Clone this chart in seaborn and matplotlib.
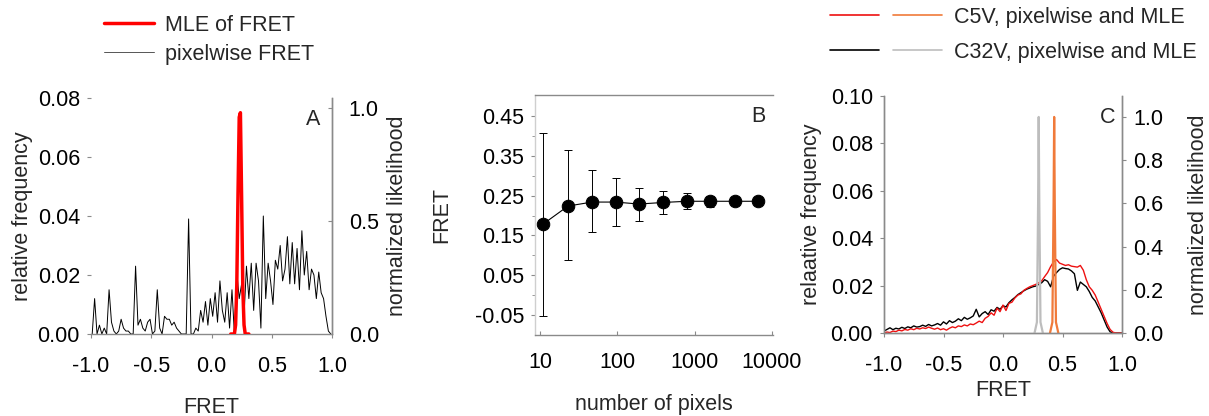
import numpy as np
import matplotlib
matplotlib.use("Agg")
import matplotlib.pyplot as plt
import seaborn as sns
from matplotlib.lines import Line2D
from matplotlib.legend_handler import HandlerTuple
from matplotlib.ticker import FixedLocator

sns.set_style("ticks")
plt.rcParams['font.family'] = ['Liberation Sans', 'DejaVu Sans']
plt.rcParams['font.size'] = 15.5
plt.rcParams['axes.unicode_minus'] = False

GRAY = '#8a8a8a'

# ---------------- panel A: pixelwise histogram + MLE likelihood
fret_bins_a = np.round(np.arange(-0.99, 1.0, 0.02), 2)
pixelwise_a = [
    0.0, 0.012, 0.0, 0.003, 0.0, 0.002, 0.0, 0.015, 0.004, 0.001,
    0.0, 0.001, 0.005, 0.002, 0.001, 0.001, 0.0, 0.0, 0.023, 0.003,
    0.005, 0.002, 0.001, 0.004, 0.005, 0.0, 0.001, 0.015, 0.002, 0.0,
    0.006, 0.005, 0.005, 0.003, 0.004, 0.002, 0.001, 0.0, 0.0, 0.0,
    0.039, 0.0, 0.0, 0.002, 0.001, 0.008, 0.004, 0.011, 0.003, 0.012,
    0.006, 0.014, 0.004, 0.018, 0.008, 0.004, 0.014, 0.002, 0.015, 0.0,
    0.021, 0.012, 0.017, 0.006, 0.023, 0.012, 0.024, 0.008, 0.024, 0.018,
    0.002, 0.040, 0.012, 0.024, 0.018, 0.010, 0.025, 0.022, 0.030, 0.018,
    0.022, 0.033, 0.017, 0.031, 0.017, 0.029, 0.015, 0.035, 0.020, 0.028,
    0.015, 0.022, 0.020, 0.012, 0.021, 0.014, 0.012, 0.006, 0.001, 0.0,
]
mle_x_a = [0.16, 0.19, 0.20, 0.21, 0.22, 0.23, 0.24, 0.25, 0.26, 0.27, 0.28, 0.31]
mle_y_a = [0.0, 0.0, 0.04, 0.22, 0.62, 0.96, 0.98, 0.60, 0.20, 0.04, 0.0, 0.0]

# ---------------- panel B: MLE vs number of pixels
n_pixels = [11, 23, 47, 95, 190, 390, 800, 1600, 3300, 6600]
fret_b = [0.179, 0.224, 0.234, 0.234, 0.229, 0.233, 0.236, 0.236, 0.236, 0.236]
fret_b_hi = [0.407, 0.365, 0.314, 0.294, 0.269, 0.262, 0.256, 0.250, 0.243, 0.241]
fret_b_lo = [-0.052, 0.088, 0.158, 0.174, 0.186, 0.204, 0.216, 0.222, 0.229, 0.231]

# ---------------- panel C: C5V and C32V
fret_bins_c = np.round(np.linspace(-1.0, 1.0, 81), 3)
c32v_pix = [
    0.0008, 0.0015, 0.0022, 0.0014, 0.0020, 0.0017, 0.0024, 0.0019, 0.0026, 0.0022,
    0.0030, 0.0025, 0.0027, 0.0033, 0.0028, 0.0036, 0.0030, 0.0034, 0.0040, 0.0033,
    0.0047, 0.0038, 0.0052, 0.0044, 0.0050, 0.0060, 0.0052, 0.0066, 0.0058, 0.0064,
    0.0072, 0.0100, 0.0068, 0.0082, 0.0090, 0.0078, 0.0098, 0.0092, 0.0108, 0.0100,
    0.0115, 0.0110, 0.0128, 0.0140, 0.0150, 0.0162, 0.0170, 0.0178, 0.0185, 0.0190,
    0.0195, 0.0198, 0.0205, 0.0212, 0.0225, 0.0218, 0.0195, 0.0240, 0.0255, 0.0268,
    0.0275, 0.0272, 0.0270, 0.0262, 0.0250, 0.0180, 0.0215, 0.0205, 0.0195, 0.0175,
    0.0150, 0.0135, 0.0110, 0.0085, 0.0055, 0.0025, 0.0005, 0.0, 0.0, 0.0, 0.0,
]
c5v_pix = [
    0.0000, 0.0004, 0.0002, 0.0008, 0.0006, 0.0012, 0.0009, 0.0015, 0.0012, 0.0018,
    0.0014, 0.0020, 0.0017, 0.0022, 0.0019, 0.0025, 0.0020, 0.0016, 0.0021, 0.0014,
    0.0018, 0.0012, 0.0020, 0.0026, 0.0022, 0.0030, 0.0027, 0.0034, 0.0030, 0.0038,
    0.0035, 0.0042, 0.0050, 0.0044, 0.0062, 0.0070, 0.0085, 0.0075, 0.0105, 0.0090,
    0.0118, 0.0095, 0.0125, 0.0130, 0.0148, 0.0160, 0.0165, 0.0180, 0.0188, 0.0195,
    0.0200, 0.0205, 0.0212, 0.0220, 0.0238, 0.0255, 0.0280, 0.0300, 0.0310, 0.0295,
    0.0290, 0.0285, 0.0288, 0.0282, 0.0280, 0.0278, 0.0285, 0.0265, 0.0225, 0.0195,
    0.0180, 0.0160, 0.0130, 0.0100, 0.0070, 0.0040, 0.0015, 0.0003, 0.0, 0.0, 0.0,
]
c32v_mle_x = [0.265, 0.285, 0.295, 0.300, 0.305, 0.315, 0.335]
c32v_mle_y = [0.0, 0.05, 0.60, 1.0, 0.60, 0.05, 0.0]
c5v_mle_x = [0.395, 0.415, 0.425, 0.430, 0.435, 0.445, 0.465]
c5v_mle_y = [0.0, 0.05, 0.60, 1.0, 0.60, 0.05, 0.0]

W, H = 1209, 416
fig = plt.figure(figsize=(W / 100, H / 100), dpi=100)


def box(l, t, r, b):
    return [l / W, 1 - b / H, (r - l) / W, (b - t) / H]


def style(ax):
    for s in ax.spines.values():
        s.set_color(GRAY)
        s.set_linewidth(1.0)
    ax.tick_params(colors=GRAY, labelcolor='black', labelsize=15.5, length=3)
    ax.tick_params(axis='x', pad=12.5)
    ax.tick_params(axis='y', pad=5)


# ---- A
axA = fig.add_axes(box(91, 98, 332, 334))
axA2 = axA.twinx()
sns.lineplot(x=fret_bins_a, y=pixelwise_a, ax=axA, color='black', linewidth=0.7)
sns.lineplot(x=mle_x_a, y=mle_y_a, ax=axA2, color='#ff0000', linewidth=2.5)
axA.set_xlim(-1.0, 1.0)
axA.set_ylim(0, 0.08)
axA2.set_ylim(0, 1.045)
axA.set_xticks([-1.0, -0.5, 0.0, 0.5, 1.0])
axA.set_yticks([0.0, 0.02, 0.04, 0.06, 0.08])
axA.set_yticklabels(['0.00', '0.02', '0.04', '0.06', '0.08'])
axA2.set_yticks([0.0, 0.5, 1.0])
axA2.set_yticklabels(['0.0', '0.5', '1.0'])
for a in (axA, axA2):
    style(a)
    a.spines['top'].set_visible(False)
    a.spines['left'].set_visible(False)
axA2.spines['bottom'].set_visible(False)
axA2.tick_params(axis='y', direction='in', pad=12)
axA.set_xlabel('FRET', labelpad=15)
axA.set_ylabel('relative frequency', labelpad=3)
axA2.set_ylabel('normalized likelihood', labelpad=6)
axA.text(0.92, 0.91, 'A', transform=axA.transAxes, ha='center', va='center')

# ---- B
axB = fig.add_axes(box(535, 95, 773, 335))
sns.lineplot(x=n_pixels, y=fret_b, ax=axB, color='black', linewidth=0.8,
             marker='o', markersize=9, markeredgecolor='black')
yerr = [np.array(fret_b) - np.array(fret_b_lo), np.array(fret_b_hi) - np.array(fret_b)]
axB.errorbar(n_pixels, fret_b, yerr=yerr, fmt='none', ecolor='black',
             elinewidth=0.7, capsize=3, capthick=0.7)
axB.set_xscale('log')
axB.set_xlim(8.6, 10300)
axB.set_ylim(-0.10, 0.503)
axB.set_xticks([10, 100, 1000, 10000])
axB.set_xticklabels(['10', '100', '1000', '10000'])
axB.set_yticks([-0.05, 0.05, 0.15, 0.25, 0.35, 0.45])
axB.set_yticklabels(['-0.05', '0.05', '0.15', '0.25', '0.35', '0.45'])
axB.yaxis.set_minor_locator(FixedLocator([0.0, 0.1, 0.2, 0.3, 0.4]))
style(axB)
axB.tick_params(axis='x', which='both', direction='in')
axB.tick_params(axis='y', which='minor', length=2, colors=GRAY)
axB.spines['right'].set_visible(False)
axB.spines['left'].set_color('#cfcfcf')
axB.set_xlabel('number of pixels', labelpad=15)
axB.set_ylabel('FRET', labelpad=16)
axB.text(0.937, 0.912, 'B', transform=axB.transAxes, ha='center', va='center')

# ---- C
axC = fig.add_axes(box(884, 96, 1122, 333))
axC2 = axC.twinx()
sns.lineplot(x=fret_bins_c, y=c32v_pix, ax=axC, color='black', linewidth=1.0)
sns.lineplot(x=fret_bins_c, y=c5v_pix, ax=axC, color='#ee1111', linewidth=1.0)
sns.lineplot(x=c32v_mle_x, y=c32v_mle_y, ax=axC2, color='#bdbdbd', linewidth=1.6)
sns.lineplot(x=c5v_mle_x, y=c5v_mle_y, ax=axC2, color='#f07a3a', linewidth=1.6)
axC.set_xlim(-1.0, 1.0)
axC.set_ylim(0, 0.10)
axC2.set_ylim(0, 1.097)
axC.set_xticks([-1.0, -0.5, 0.0, 0.5, 1.0])
axC.set_yticks([0.0, 0.02, 0.04, 0.06, 0.08, 0.10])
axC.set_yticklabels(['0.00', '0.02', '0.04', '0.06', '0.08', '0.10'])
axC2.set_yticks([0.0, 0.2, 0.4, 0.6, 0.8, 1.0])
axC2.set_yticklabels(['0.0', '0.2', '0.4', '0.6', '0.8', '1.0'])
for a in (axC, axC2):
    style(a)
    a.spines['top'].set_visible(False)
axC.set_xlabel('FRET', labelpad=3)
axC.set_ylabel('relaative frequency', labelpad=6)
axC2.set_ylabel('normalized likelihood', labelpad=18)
axC.text(0.941, 0.911, 'C', transform=axC.transAxes, ha='center', va='center')

# ---- legends
legA = [Line2D([], [], color='#ff0000', linewidth=2.5),
        Line2D([], [], color='#555555', linewidth=0.7)]
fig.legend(legA, ['MLE of FRET', 'pixelwise FRET'], loc='upper left',
           bbox_to_anchor=(104 / W, 1 - 15 / H), frameon=False,
           borderpad=0, borderaxespad=0, handlelength=2.3, handletextpad=0.55,
           labelspacing=0.35, fontsize=15.5)

legC = [(Line2D([], [], color='#ee1111', linewidth=1.2), Line2D([], [], color='#f07a3a', linewidth=1.2)),
        (Line2D([], [], color='black', linewidth=1.2), Line2D([], [], color='#bdbdbd', linewidth=1.2))]
fig.legend(legC, ['C5V, pixelwise and MLE', 'C32V, pixelwise and MLE'], loc='upper left',
           bbox_to_anchor=(830 / W, 1 - 7 / H), frameon=False,
           borderpad=0, borderaxespad=0, handlelength=5.2, handletextpad=0.55,
           labelspacing=0.65, fontsize=15.5,
           handler_map={tuple: HandlerTuple(ndivide=None, pad=0.65)})

fig.savefig('out.png', dpi=100)
